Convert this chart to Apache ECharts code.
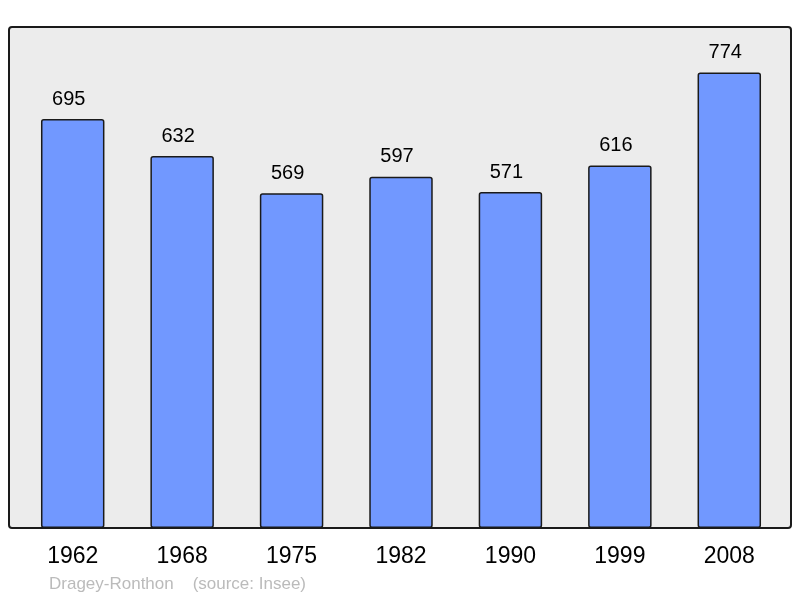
<!DOCTYPE html>
<html><head><meta charset="utf-8">
<script src="https://cdn.jsdelivr.net/npm/echarts@6/dist/echarts.min.js"></script>
<style>html,body{margin:0;padding:0;background:#fff}#c{width:800px;height:598px}</style>
</head><body><div id="c"></div>
<script>
const years = ['1962','1968','1975','1982','1990','1999','2008'];
const population = [695, 632, 569, 597, 571, 616, 774];
const footer = 'Dragey-Ronthon    (source: Insee)';

const chart = echarts.init(document.getElementById('c'), null, {renderer:'canvas'});
chart.setOption({
  animation:false,
  backgroundColor:'#ffffff',
  graphic:[
    {type:'rect', z:-10, shape:{x:9,y:27,width:782,height:501,r:3},
     style:{fill:'#ececec', stroke:'#1a1a1a', lineWidth:2}},
    {type:'text', left:49, top:576, style:{text:footer, fill:'#bbbbbb', font:'17px "Liberation Sans", Arial, sans-serif'}}
  ],
  grid:{left:18, right:16, top:27, bottom:70},
  xAxis:{type:'category', data:years,
    axisLine:{show:false}, axisTick:{show:false},
    axisLabel:{color:'#000', fontSize:23, margin:17, fontFamily:'"Liberation Sans", Arial, sans-serif'}},
  yAxis:{type:'value', min:0, max: Math.max(...population)*1.1, show:false, splitLine:{show:false}},
  series:[{type:'bar', data:population, barWidth:'58%',
    itemStyle:{color:'#7198ff', borderColor:'#1a1a1a', borderWidth:1.5, borderRadius:2},
    label:{show:true, position:'top', distance:10, offset:[-4,0], color:'#000', fontSize:20,
      fontFamily:'"Liberation Sans", Arial, sans-serif'}}]
});
</script></body></html>
